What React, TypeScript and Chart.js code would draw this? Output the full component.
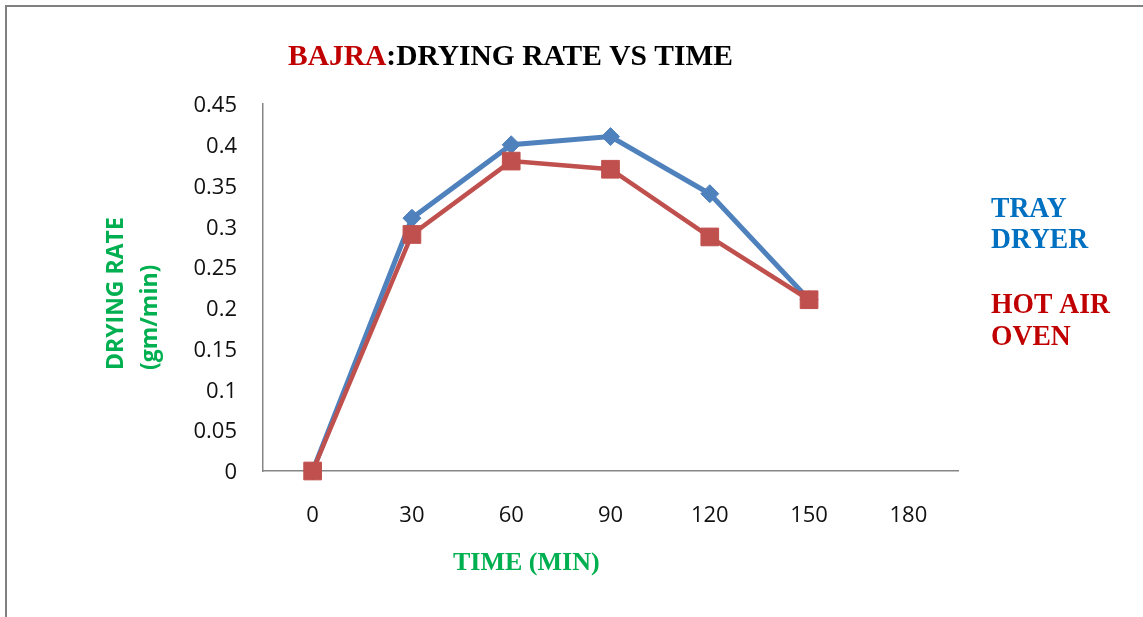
import React, { useEffect, useRef } from "react";
import { Chart, registerables } from "chart.js";

Chart.register(...registerables);

// Drying time (min) along the category axis
const timeLabels = ["0", "30", "60", "90", "120", "150", "180"];

// Drying rate (gm/min) for each method
const trayDryer = [0, 0.31, 0.4, 0.41, 0.34, 0.21, null];
const hotAirOven = [0, 0.29, 0.38, 0.37, 0.287, 0.21, null];

// Value axis range
const yMin = 0;
const yMax = 0.45;
const yStep = 0.05;

// Text content
const titlePrefix = "BAJRA";
const titleRest = ":DRYING RATE VS TIME";
const yTitleLines = ["DRYING RATE", "(gm/min)"];
const xTitle = "TIME (MIN)";
const trayLegend = ["TRAY", "DRYER"];
const ovenLegend = ["HOT AIR", "OVEN"];

const W = 1143;
const H = 617;

const BLUE_LINE = "#4F81BD";
const RED_LINE = "#C0504D";
const GREEN = "#00B050";
const TEXT_BLUE = "#0070C0";
const TEXT_RED = "#C00000";
const AXIS_GREY = "#868686";

const decorations = {
  id: "decorations",
  beforeDraw(chart: any) {
    const ctx = chart.ctx as CanvasRenderingContext2D;
    ctx.save();
    // outer frame (left and top edges visible)
    ctx.fillStyle = "#808080";
    ctx.fillRect(5, 5, 2, H);
    ctx.fillRect(5, 5, W, 2);
    ctx.restore();
  },
  afterDraw(chart: any) {
    const ctx = chart.ctx as CanvasRenderingContext2D;
    ctx.save();
    ctx.textAlign = "left";
    ctx.textBaseline = "alphabetic";

    // title
    ctx.font = "bold 29.5px 'Liberation Serif', 'Times New Roman', serif";
    ctx.fillStyle = TEXT_RED;
    ctx.fillText(titlePrefix, 288, 65);
    const pw = ctx.measureText(titlePrefix).width;
    ctx.fillStyle = "#000000";
    ctx.fillText(titleRest, 288 + pw, 65);

    // x axis title
    ctx.font = "bold 26px 'Liberation Serif', 'Times New Roman', serif";
    ctx.fillStyle = GREEN;
    ctx.fillText(xTitle, 453, 570);

    // y axis title (rotated, two lines)
    ctx.font = "bold 23px 'Open Sans', sans-serif";
    ctx.fillStyle = GREEN;
    const yBaselines = [123, 157];
    yTitleLines.forEach((line, i) => {
      ctx.save();
      ctx.translate(yBaselines[i], 370);
      ctx.rotate(-Math.PI / 2);
      ctx.fillText(line, 0, 0);
      ctx.restore();
    });

    // series labels on the right
    ctx.font = "bold 30px 'Liberation Serif', 'Times New Roman', serif";
    const drawLabel = (text: string, y: number, color: string) => {
      ctx.save();
      ctx.translate(991, y);
      ctx.scale(0.92, 1);
      ctx.fillStyle = color;
      ctx.fillText(text, 0, 0);
      ctx.restore();
    };
    drawLabel(trayLegend[0], 217, TEXT_BLUE);
    drawLabel(trayLegend[1], 248, TEXT_BLUE);
    drawLabel(ovenLegend[0], 313, TEXT_RED);
    drawLabel(ovenLegend[1], 345, TEXT_RED);

    ctx.restore();
  },
};

const tickFont = { family: "'Open Sans', sans-serif", size: 22 };

export default function App() {
  const canvasRef = useRef<HTMLCanvasElement | null>(null);

  useEffect(() => {
    if (!canvasRef.current) return;
    const chart = new Chart(canvasRef.current, {
      type: "line",
      data: {
        labels: timeLabels,
        datasets: [
          {
            label: "TRAY DRYER",
            data: trayDryer,
            borderColor: BLUE_LINE,
            backgroundColor: BLUE_LINE,
            borderWidth: 5,
            tension: 0,
            pointStyle: "rectRot",
            pointRadius: 9,
            pointBorderWidth: 1,
            pointBackgroundColor: BLUE_LINE,
            pointBorderColor: BLUE_LINE,
            clip: false,
            order: 2,
          },
          {
            label: "HOT AIR OVEN",
            data: hotAirOven,
            borderColor: RED_LINE,
            backgroundColor: RED_LINE,
            borderWidth: 4.5,
            tension: 0,
            pointStyle: "rect",
            pointRadius: 12.5,
            pointBorderWidth: 1,
            pointBackgroundColor: RED_LINE,
            pointBorderColor: RED_LINE,
            clip: false,
            order: 1,
          },
        ],
      },
      options: {
        animation: false,
        responsive: false,
        layout: { padding: { left: 0, top: 104, right: 185, bottom: 0 } },
        plugins: {
          legend: { display: false },
          title: { display: false },
          tooltip: { enabled: false },
        },
        scales: {
          x: {
            type: "category",
            offset: true,
            grid: { display: false, drawTicks: false },
            border: { display: true, color: AXIS_GREY, width: 1.5 },
            ticks: {
              font: tickFont,
              color: "#111111",
              padding: 32,
              maxRotation: 0,
              autoSkip: false,
            },
            afterFit: (s: any) => {
              s.height = 146;
              s.paddingLeft = 0;
              s.paddingRight = 0;
            },
          },
          y: {
            min: yMin,
            max: yMax,
            grid: { display: false, drawTicks: false },
            border: { display: true, color: AXIS_GREY, width: 1.5 },
            ticks: {
              stepSize: yStep,
              font: tickFont,
              color: "#111111",
              padding: 26,
              labelOffset: 2,
              autoSkip: false,
              callback: (v: any) => String(Number(Number(v).toFixed(2))),
            },
            afterFit: (s: any) => {
              s.width = 263;
              s.paddingTop = 0;
              s.paddingBottom = 0;
            },
          },
        },
      },
      plugins: [decorations],
    });
    return () => chart.destroy();
  }, []);

  return (
    <div style={{ position: "absolute", left: 0, top: 0, width: W, height: H, background: "#ffffff" }}>
      <canvas ref={canvasRef} width={W} height={H} style={{ display: "block" }} />
    </div>
  );
}
